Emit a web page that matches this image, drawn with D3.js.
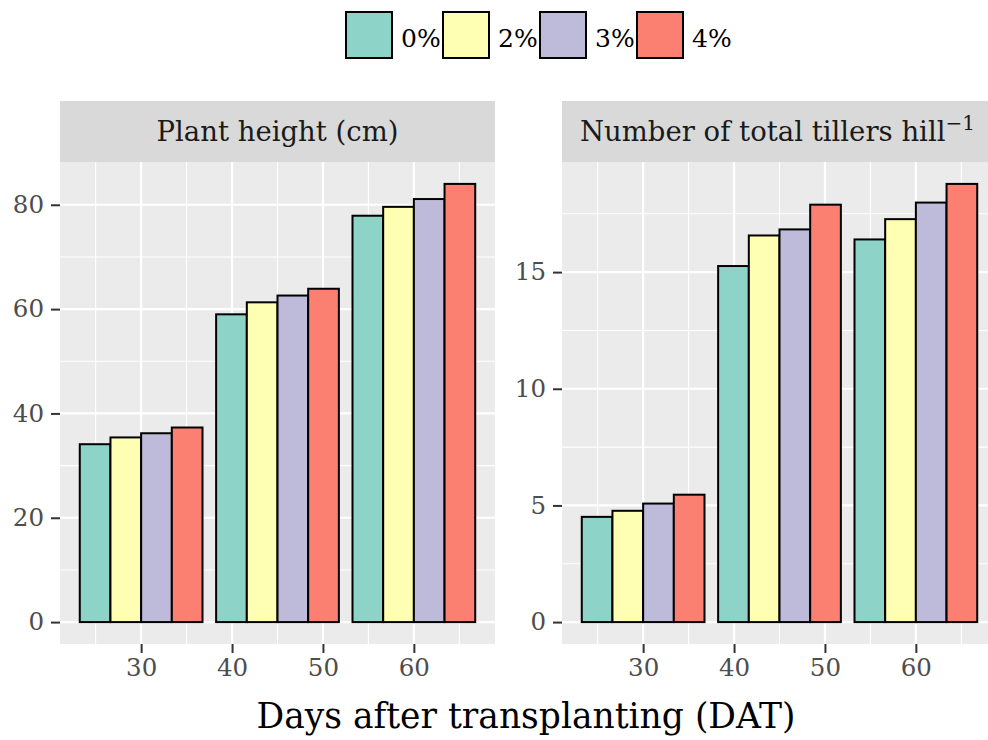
<!DOCTYPE html>
<html>
<head>
<meta charset="utf-8">
<script src="https://cdn.jsdelivr.net/npm/d3@7"></script>
<style>
  body { margin: 0; background: #fff; }
  svg { display: block; }
  svg text { font-family: "DejaVu Serif", "Liberation Serif", serif; }
</style>
</head>
<body>
<svg width="988" height="740"></svg>
<script>
(function() {
  // data
  var days = [30, 45, 60];
  var levels = ["0%", "2%", "3%", "4%"];
  var fills = ["#8DD3C7", "#FFFFB3", "#BEBADA", "#FB8072"];
  var heightVals = [[34.1, 35.4, 36.2, 37.3], [59.0, 61.3, 62.6, 63.9], [77.9, 79.6, 81.1, 84.0]];
  var tillerVals = [[4.51, 4.77, 5.08, 5.46], [15.26, 16.57, 16.83, 17.89], [16.40, 17.27, 17.98, 18.78]];
  var xTicks = [30, 40, 50, 60];
  var xMinor = [25, 35, 45, 55, 65];
  var heightTicks = [0, 20, 40, 60, 80];
  var heightMinor = [10, 30, 50, 70];
  var tillerTicks = [0, 5, 10, 15];
  var tillerMinor = [2.5, 7.5, 12.5, 17.5];

  var svg = d3.select("svg"),
    width = +svg.attr("width"),
    height = +svg.attr("height");

  var top = 162, bottom = 644, stripH = 61;
  var barW = 13.5, dodge = barW / levels.length;

  var panels = [
    { title: "Plant height (cm)", vals: heightVals, ticks: heightTicks, minor: heightMinor, left: 60, right: 495 },
    { title: "Number of total tillers hill", sup: "\u22121", vals: tillerVals, ticks: tillerTicks, minor: tillerMinor, left: 562, right: 997 }
  ];

  panels.forEach(function(p) {
    // ggplot style 5% expansion
    var xlo = d3.min(days) - barW / 2, xhi = d3.max(days) + barW / 2;
    var xpad = (xhi - xlo) * 0.05;
    var x = d3.scaleLinear().domain([xlo - xpad, xhi + xpad]).range([p.left, p.right]);
    var ymax = d3.max(p.vals, function(r) { return d3.max(r); });
    var y = d3.scaleLinear().domain([-ymax * 0.05, ymax * 1.05]).range([bottom, top]);

    var g = svg.append("g");

    g.append("rect")
      .attr("x", p.left).attr("y", top)
      .attr("width", p.right - p.left).attr("height", bottom - top)
      .attr("fill", "#EBEBEB");

    g.append("rect")
      .attr("x", p.left).attr("y", top - stripH)
      .attr("width", p.right - p.left).attr("height", stripH)
      .attr("fill", "#D9D9D9");

    var st = g.append("text")
      .attr("x", (p.left + p.right) / 2 - (p.sup ? 2 : 0))
      .attr("y", top - 21)
      .attr("text-anchor", "middle")
      .attr("font-size", 27.5)
      .attr("fill", "#1A1A1A")
      .text(p.title);
    if (p.sup) {
      st.append("tspan")
        .attr("dy", -11)
        .attr("font-size", 20)
        .text(p.sup);
    }

    // grid
    g.selectAll(".ymin").data(p.minor).enter().append("line")
      .attr("x1", p.left).attr("x2", p.right)
      .attr("y1", y).attr("y2", y)
      .attr("stroke", "#fff").attr("stroke-width", 1.1);
    g.selectAll(".xmin").data(xMinor).enter().append("line")
      .attr("x1", x).attr("x2", x)
      .attr("y1", top).attr("y2", bottom)
      .attr("stroke", "#fff").attr("stroke-width", 1.1);
    g.selectAll(".ymaj").data(p.ticks).enter().append("line")
      .attr("x1", p.left).attr("x2", p.right)
      .attr("y1", y).attr("y2", y)
      .attr("stroke", "#fff").attr("stroke-width", 2.2);
    g.selectAll(".xmaj").data(xTicks).enter().append("line")
      .attr("x1", x).attr("x2", x)
      .attr("y1", top).attr("y2", bottom)
      .attr("stroke", "#fff").attr("stroke-width", 2.2);

    // bars
    var cells = [];
    p.vals.forEach(function(row, i) {
      row.forEach(function(v, j) {
        cells.push({ day: days[i], j: j, v: v });
      });
    });
    g.selectAll(".bar").data(cells).enter().append("rect")
      .attr("x", function(d) { return x(d.day - barW / 2 + d.j * dodge); })
      .attr("width", function(d) { return x(dodge) - x(0); })
      .attr("y", function(d) { return y(d.v); })
      .attr("height", function(d) { return y(0) - y(d.v); })
      .attr("fill", function(d) { return fills[d.j]; })
      .attr("stroke", "#000")
      .attr("stroke-width", 2);

    // axes
    var ya = svg.append("g")
      .attr("transform", "translate(" + p.left + ",0)")
      .call(d3.axisLeft(y).tickValues(p.ticks).tickSize(9).tickPadding(7));
    var xa = svg.append("g")
      .attr("transform", "translate(0," + bottom + ")")
      .call(d3.axisBottom(x).tickValues(xTicks).tickSize(9).tickPadding(6));
    [ya, xa].forEach(function(a) {
      a.select(".domain").remove();
      a.selectAll(".tick line").attr("stroke", "#333").attr("stroke-width", 2);
      a.selectAll(".tick text")
        .attr("font-size", 24.5)
        .attr("fill", "#4D4D4D");
    });
  });

  // axis title
  svg.append("text")
    .attr("x", 526)
    .attr("y", 728)
    .attr("text-anchor", "middle")
    .attr("font-size", 34.5)
    .attr("fill", "#000")
    .text("Days after transplanting (DAT)");

  // legend
  var lg = svg.append("g").attr("transform", "translate(346,12)");
  var key = lg.selectAll("g").data(levels).enter().append("g")
    .attr("transform", function(d, i) { return "translate(" + (i * 97) + ",0)"; });
  key.append("rect")
    .attr("width", 46).attr("height", 46)
    .attr("fill", function(d, i) { return fills[i]; })
    .attr("stroke", "#000").attr("stroke-width", 2);
  key.append("text")
    .attr("x", 55).attr("y", 35)
    .attr("font-size", 25)
    .text(function(d) { return d; });
})();
</script>
</body>
</html>
